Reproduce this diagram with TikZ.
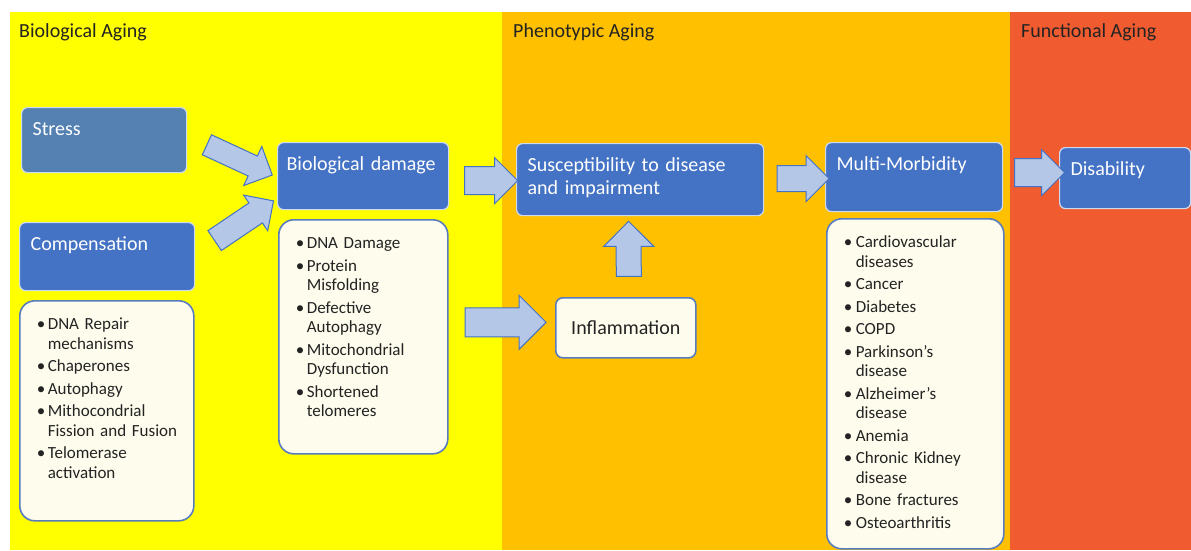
\documentclass[tikz,border=0pt]{standalone}
\usepackage{fontspec}
\setmainfont{Carlito}
\usetikzlibrary{shapes.arrows, positioning, calc}

\definecolor{agebio}{RGB}{255,255,0}
\definecolor{agepheno}{RGB}{255,192,0}
\definecolor{agefunc}{RGB}{240,92,48}
\definecolor{boxblue}{RGB}{68,114,196}
\definecolor{stressblue}{RGB}{84,128,178}
\definecolor{boxrim}{RGB}{205,218,240}
\definecolor{listfill}{RGB}{254,252,236}
\definecolor{listrim}{RGB}{88,124,190}
\definecolor{arrowfill}{RGB}{180,199,231}
\definecolor{arrowrim}{RGB}{68,114,196}
\definecolor{inkdark}{RGB}{35,35,35}

\newcommand{\titlefont}{\fontsize{20}{23}\selectfont}
\newcommand{\listfont}{\fontsize{17}{19.5}\selectfont}

\begin{document}
\begin{tikzpicture}[
    x=1pt, y=-1pt,
    phase/.style={anchor=base west, font=\titlefont, text=inkdark, inner sep=0pt},
    stage/.style={anchor=north west, fill=boxblue, draw=boxrim, line width=1.2pt,
        rounded corners=6pt, text=white, font=\titlefont, align=left,
        inner xsep=11pt, inner ysep=0pt, text height=28pt},
    factors/.style={anchor=north west, fill=listfill, draw=listrim, line width=1.6pt,
        rounded corners=15pt, text=inkdark, font=\listfont, align=left,
        inner xsep=17pt, inner ysep=0pt, text height=29pt},
    note/.style={anchor=north west, fill=listfill, draw=listrim, line width=1.6pt,
        rounded corners=7pt, text=inkdark, font=\titlefont},
    bigarrow/.style n args={3}{single arrow, draw=arrowrim, fill=arrowfill,
        line width=1pt, inner xsep=0pt, inner ysep=#2/2, minimum height=#1,
        single arrow head extend=(#3-#2)/2, midway, sloped, allow upside down}
]
    \useasboundingbox (0,0) rectangle (1191,550);
    \fill[white] (0,0) rectangle (1191,550);

    % age bands
    \fill[agebio] (10,12) rectangle (502,550);
    \fill[agepheno] (502,12) rectangle (1010,550);
    \fill[agefunc] (1010,12) rectangle (1191,550);

    \node[phase] (hbio) at (19,37) {Biological Aging};
    \node[phase] (hpheno) at (513,37) {Phenotypic Aging};
    \node[phase] (hfunc) at (1021,37) {Functional Aging};

    % stages
    \node[stage, fill=stressblue, text width=143pt, text depth=37pt] (stress) at (21,107) {Stress};
    \node[stage, text width=153pt, text depth=40pt] (comp) at (19,222) {Compensation};
    \node[stage, inner xsep=9pt, text width=153pt, text depth=39pt] (biodmg) at (277,142) {Biological damage};
    \node[stage, text width=225pt, text depth=44pt] (susc) at (516,143) {Susceptibility to disease\\and impairment};
    \node[stage, text width=155pt, text depth=41pt] (multi) at (825,142) {Multi-Morbidity};
    \node[stage, text width=109pt, text depth=33pt] (disab) at (1059,147) {Disability};
    \node[note, minimum width=140pt, minimum height=60pt] (inflam) at (555,297) {Inflammation};

    % lists
    \node[factors, text width=140pt, text depth=191pt] (complist) at (19,300) {%
        \begin{tabular}[t]{@{}p{11pt}@{}l@{}}
        \textbullet & DNA Repair\\
                    & mechanisms\\[3pt]
        \textbullet & Chaperones\\[3pt]
        \textbullet & Autophagy\\[3pt]
        \textbullet & Mithocondrial\\
                    & Fission and Fusion\\[3pt]
        \textbullet & Telomerase\\
                    & activation
        \end{tabular}};
    \node[factors, text width=135pt, text depth=205pt] (biolist) at (278,219) {%
        \begin{tabular}[t]{@{}p{11pt}@{}l@{}}
        \textbullet & DNA Damage\\[3pt]
        \textbullet & Protein\\
                    & Misfolding\\[3pt]
        \textbullet & Defective\\
                    & Autophagy\\[3pt]
        \textbullet & Mitochondrial\\
                    & Dysfunction\\[3pt]
        \textbullet & Shortened\\
                    & telomeres
        \end{tabular}};
    \node[factors, text width=143pt, text depth=301pt] (multilist) at (826,218) {%
        \begin{tabular}[t]{@{}p{12pt}@{}l@{}}
        \textbullet & Cardiovascular\\
                    & diseases\\[3pt]
        \textbullet & Cancer\\[3pt]
        \textbullet & Diabetes\\[3pt]
        \textbullet & COPD\\[3pt]
        \textbullet & Parkinson's\\
                    & disease\\[3pt]
        \textbullet & Alzheimer's\\
                    & disease\\[3pt]
        \textbullet & Anemia\\[3pt]
        \textbullet & Chronic Kidney\\
                    & disease\\[3pt]
        \textbullet & Bone fractures\\[3pt]
        \textbullet & Osteoarthritis
        \end{tabular}};

    % block arrows
    \path ($(stress.east)+(15,2.5)$) -- ($(biodmg.west)+(-10,-3.5)$) node[bigarrow={72}{21}{42}] {};
    \path ($(comp.east)+(15,-13)$) -- ($(biodmg.west)+(-9,28.5)$) node[bigarrow={71}{23}{42}] {};
    \path ($(biodmg.east)+(9,4.5)$) -- ($(susc.west)+(-6,1)$) node[bigarrow={53}{27}{45}] {};
    \path ($(biolist.east)+(10,-14.5)$) -- ($(inflam.west)+(-17,-5.5)$) node[bigarrow={81}{28}{53}] {};
    \path ($(inflam.north)+(3,-15)$) -- ($(susc.south)+(-11.5,12)$) node[bigarrow={55}{24}{49}] {};
    \path ($(susc.east)+(7,-1)$) -- ($(multi.west)+(-3,1.5)$) node[bigarrow={52}{25}{45}] {};
    \path ($(multi.east)+(5,-4.5)$) -- ($(disab.west)+(-2,-5.5)$) node[bigarrow={50}{27}{45}] {};
\end{tikzpicture}
\end{document}
